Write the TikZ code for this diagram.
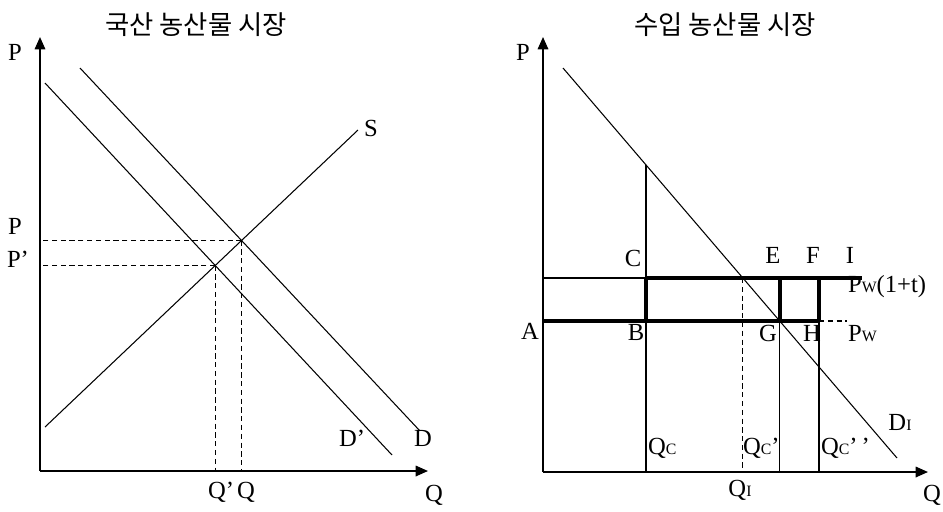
\documentclass[tikz,border=0pt]{standalone}
\usepackage{fontspec}
\setmainfont{Liberation Serif}
\newfontfamily\kofont{Noto Sans CJK KR}
\usetikzlibrary{arrows.meta,intersections}

% small subscript letter as the picture prints it
\newcommand{\lsub}[1]{{\fontsize{9}{9}\selectfont #1}}

\begin{document}
\begin{tikzpicture}[
    x=0.02cm, y=-0.02cm,
    every node/.style={font=\fontsize{14}{16}\selectfont, inner sep=1pt},
    curve/.style={line width=0.6pt},
    axis/.style={line width=0.9pt, -{Triangle[length=7pt, width=6pt]}},
    guide/.style={line width=0.6pt, dash pattern=on 3pt off 2pt},
    bold/.style={line width=2.4pt},
    title/.style={font=\kofont\fontsize{15}{18}\selectfont}
]
    \useasboundingbox (0,0) rectangle (943,511);

    % ---------- left: domestic market ----------
    \coordinate (O1) at (40,471);     % origin
    \coordinate (Y1) at (40,37);      % price axis top
    \coordinate (X1) at (428,471);    % quantity axis end

    \node[title] (t1) at (196,25) {국산 농산물 시장};

    \draw[axis] (O1) -- (Y1);
    \draw[axis] (O1) -- (X1);

    % supply and the two demand lines
    \draw[curve, name path=S]  (45,427) -- (358,130);
    \draw[curve, name path=D]  (80,68)  -- (420,431);
    \draw[curve, name path=D2] (45,83)  -- (392,455);

    \path[name intersections={of=S and D, by=E1}];
    \path[name intersections={of=S and D2, by=E2}];

    % dashed guides to the axes
    \draw[guide] (E1) -- (E1 -| O1);
    \draw[guide] (E1) -- (E1 |- O1);
    \draw[guide] (E2) -- (E2 -| O1);
    \draw[guide] (E2) -- (E2 |- O1);

    \node (pL)  at (15,52)  {P};
    \node (pE1) at (15,226) {P};
    \node (pE2) at (18,259) {P\textquoteright};
    \node (sL)  at (371,128) {S};
    \node (d2L) at (352,438) {D\textquoteright};
    \node (dL)  at (423,438) {D};
    \node (q2L) at (221,492) {Q\textquoteright};
    \node (q1L) at (246,492) {Q};
    \node (qL)  at (434,495) {Q};

    % ---------- right: imported market ----------
    \coordinate (O2) at (543,472);    % origin
    \coordinate (Y2) at (543,37);     % price axis top
    \coordinate (X2) at (928,472);    % quantity axis end

    \node[title] (t2) at (725,25) {수입 농산물 시장};

    \draw[axis] (O2) -- (Y2);
    \draw[axis] (O2) -- (X2);

    % import demand
    \draw[curve, name path=DI] (563,68) -- (897,458);

    % price levels
    \coordinate (A) at (543,321);
    \coordinate (C) at (646,278);
    \coordinate (B) at (646,321);
    \coordinate (F) at (819,278);
    \coordinate (H) at (819,321);
    \coordinate (I) at (862,278);
    \coordinate (Pw) at (847,321);

    \path[name path=upper] (O2 |- C) -- (I);
    \path[name path=lower] (A) -- (Pw);
    \path[name path=qc] (646,40) -- (646,472);
    \path[name intersections={of=DI and upper, by=QI}];
    \path[name intersections={of=DI and lower, by=G}];
    \path[name intersections={of=DI and qc, by=Ctop}];
    \coordinate (E) at (G |- C);

    % thin quantity lines
    \draw[curve] (O2 |- C) -- (C);
    \draw[curve] (Ctop) -- (Ctop |- O2);
    \draw[curve] (G) -- (G |- O2);
    \draw[curve] (H) -- (H |- O2);
    \draw[guide] (QI) -- (QI |- O2);
    \draw[guide] (H) -- (Pw);

    % tariff boxes
    \draw[bold] (C) -- (I);
    \draw[bold] (A) -- (H);
    \draw[bold] (C) -- (B);
    \draw[bold] (E) -- (G);
    \draw[bold] (F) -- (H);

    \node (pR)  at (523,52)  {P};
    \node (cL)  at (633,258) {C};
    \node (eL)  at (773,255) {E};
    \node (fL)  at (813,255) {F};
    \node (iL)  at (850,255) {I};
    \node[anchor=west] (pw1L) at (846,287) {P\lsub{W}(1+t)};
    \node (aL)  at (530,331) {A};
    \node (bL)  at (636,332) {B};
    \node (gL)  at (768,333) {G};
    \node (hL)  at (812,333) {H};
    \node[anchor=west] (pwL) at (846,334) {P\lsub{W}};
    \node[anchor=west] (qcL)  at (646,448) {Q\lsub{C}};
    \node[anchor=west] (qc1L) at (741,448) {Q\lsub{C}\textquoteright};
    \node[anchor=west] (qc2L) at (819,448) {Q\lsub{C}\textquoteright\,\textquoteright};
    \node (diL) at (900,422) {D\lsub{I}};
    \node (qiL) at (740,490) {Q\lsub{I}};
    \node (qR)  at (932,495) {Q};

\end{tikzpicture}
\end{document}
